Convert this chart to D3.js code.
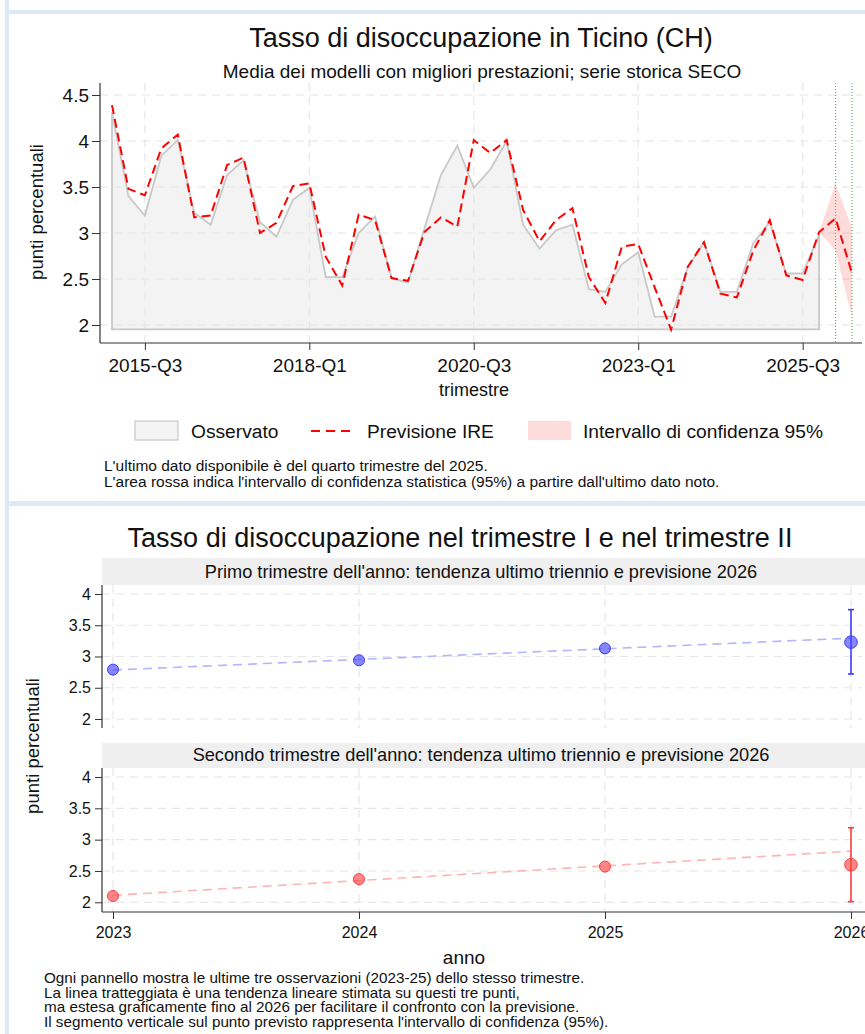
<!DOCTYPE html>
<html><head><meta charset="utf-8">
<script src="https://cdn.jsdelivr.net/npm/d3@7"></script>
<style>
body{margin:0;background:#fff}
svg{display:block}
text{font-family:"Liberation Sans",Arial,sans-serif;fill:#111}
</style>
</head><body><svg id="c" width="865" height="1034"></svg>
<script>
// ---------------- DATA ----------------
const quarters = ["2015-Q1","2015-Q2","2015-Q3","2015-Q4","2016-Q1","2016-Q2","2016-Q3","2016-Q4",
 "2017-Q1","2017-Q2","2017-Q3","2017-Q4","2018-Q1","2018-Q2","2018-Q3","2018-Q4",
 "2019-Q1","2019-Q2","2019-Q3","2019-Q4","2020-Q1","2020-Q2","2020-Q3","2020-Q4",
 "2021-Q1","2021-Q2","2021-Q3","2021-Q4","2022-Q1","2022-Q2","2022-Q3","2022-Q4",
 "2023-Q1","2023-Q2","2023-Q3","2023-Q4","2024-Q1","2024-Q2","2024-Q3","2024-Q4",
 "2025-Q1","2025-Q2","2025-Q3","2025-Q4","2026-Q1","2026-Q2"];
const observed = [4.31,3.40,3.19,3.84,4.01,3.22,3.09,3.63,3.79,3.12,2.96,3.36,3.49,2.52,2.52,3.00,
 3.18,2.51,2.46,3.05,3.63,3.95,3.49,3.69,4.00,3.09,2.83,3.03,3.09,2.39,2.36,2.66,
 2.79,2.09,2.09,2.62,2.90,2.36,2.36,2.89,3.12,2.56,2.56,2.98];
const forecast = [4.39,3.48,3.41,3.92,4.07,3.17,3.19,3.74,3.82,3.00,3.11,3.51,3.54,2.74,2.43,3.20,
 3.14,2.51,2.48,3.01,3.17,3.07,4.01,3.87,4.01,3.25,2.91,3.14,3.27,2.52,2.24,2.85,
 2.88,2.41,1.95,2.63,2.90,2.34,2.30,2.81,3.14,2.54,2.49,3.01,3.16,2.56];
const ciQuarters = ["2025-Q4","2026-Q1","2026-Q2"];
const ciLower = [3.01,2.81,2.08];
const ciUpper = [3.01,3.54,3.05];
const forecastMarks = ["2026-Q1","2026-Q2"];
const areaFloor = 1.953;
const xTickLabels = ["2015-Q3","2018-Q1","2020-Q3","2023-Q1","2025-Q3"];
const yTicksTop = [2,2.5,3,3.5,4,4.5];

const years = [2023,2024,2025];
const forecastYear = 2026;
const q1Values = [2.79,2.94,3.13];
const q1Forecast = 3.23;
const q1Ci = [2.72,3.75];
const q2Values = [2.10,2.37,2.57];
const q2Forecast = 2.60;
const q2Ci = [2.01,3.19];
const xTicksBottom = [2023,2024,2025,2026];
const yTicksBottom = [2,2.5,3,3.5,4];

// ---------------- SETUP ----------------
const svg = d3.select("#c");
const FONT = '"Liberation Sans",Arial,sans-serif';
const BORDER = "#dde9f6";

svg.append("rect").attr("x",5).attr("y",0).attr("width",4).attr("height",1034).attr("fill",BORDER);
svg.append("rect").attr("x",5).attr("y",10).attr("width",860).attr("height",4).attr("fill",BORDER);
svg.append("rect").attr("x",5).attr("y",501).attr("width",860).attr("height",5).attr("fill",BORDER);

// ---------------- TOP CHART ----------------
const x = d3.scalePoint().domain(quarters).range([112,852]);
const y = d3.scaleLinear().domain([2,4.5]).range([325,95]);
const plotL = 100, plotR = 862, plotT = 83, plotB = 343;

const topG = svg.append("g");

const obsPts = observed.map((v,i)=>[x(quarters[i]), y(v)]);
const poly = [[x(quarters[0]), y(areaFloor)], ...obsPts, [x(quarters[observed.length-1]), y(areaFloor)]];
topG.append("path").attr("d", d3.line()(poly)+"Z")
  .attr("fill","#f3f3f3").attr("stroke","none");

topG.selectAll(".hg").data(yTicksTop).join("line")
  .attr("x1",plotL).attr("x2",plotR).attr("y1",d=>y(d)).attr("y2",d=>y(d))
  .attr("stroke","#e6e6e6").attr("stroke-width",1.2).attr("stroke-dasharray","8,6");
topG.selectAll(".vg").data(xTickLabels).join("line")
  .attr("x1",d=>x(d)).attr("x2",d=>x(d)).attr("y1",plotT).attr("y2",plotB)
  .attr("stroke","#e6e6e6").attr("stroke-width",1.2).attr("stroke-dasharray","8,6");

topG.append("path").attr("d", d3.line()(poly)+"Z")
  .attr("fill","none").attr("stroke","#c8c8c8").attr("stroke-width",1.8);

const band = d3.area()
  .x((d,i)=>x(ciQuarters[i])).y0((d,i)=>y(ciLower[i])).y1((d,i)=>y(ciUpper[i]));
topG.append("path").attr("d", band(ciQuarters)).attr("fill","#ff0000").attr("fill-opacity",0.14);

topG.selectAll(".gm").data(forecastMarks).join("line")
  .attr("x1",d=>x(d)).attr("x2",d=>x(d)).attr("y1",plotT).attr("y2",plotB)
  .attr("stroke","#5cb85c").attr("stroke-width",1.2).attr("stroke-dasharray","1,2");

topG.append("path").attr("d", d3.line().x((d,i)=>x(quarters[i])).y(d=>y(d))(forecast))
  .attr("fill","none").attr("stroke","#ff0000").attr("stroke-width",2).attr("stroke-dasharray","9,5");

topG.append("line").attr("x1",plotL).attr("x2",plotL).attr("y1",plotT).attr("y2",plotB).attr("stroke","#333").attr("stroke-width",1.2);
topG.append("line").attr("x1",plotL).attr("x2",plotR).attr("y1",plotB).attr("y2",plotB).attr("stroke","#333").attr("stroke-width",1.2);

const yAx = topG.append("g").attr("transform",`translate(${plotL},0)`)
  .call(d3.axisLeft(y).tickValues(yTicksTop).tickSize(8).tickPadding(3).tickFormat(d=>String(d)));
yAx.select(".domain").remove();
yAx.selectAll("line").attr("stroke","#333");
yAx.selectAll("text").attr("font-size",19).attr("font-family",FONT).attr("fill","#111");

const xAx = topG.append("g").attr("transform",`translate(0,${plotB})`)
  .call(d3.axisBottom(x).tickValues(xTickLabels).tickSize(7).tickPadding(9));
xAx.select(".domain").remove();
xAx.selectAll("line").attr("stroke","#333");
xAx.selectAll("text").attr("font-size",19).attr("font-family",FONT).attr("fill","#111");

topG.append("text").attr("x",481).attr("y",47).attr("text-anchor","middle").attr("font-size",27)
  .text("Tasso di disoccupazione in Ticino (CH)");
topG.append("text").attr("x",482).attr("y",78).attr("text-anchor","middle").attr("font-size",19)
  .text("Media dei modelli con migliori prestazioni; serie storica SECO");
topG.append("text").attr("x",474).attr("y",396).attr("text-anchor","middle").attr("font-size",18)
  .text("trimestre");
topG.append("text").attr("transform","translate(43,212) rotate(-90)").attr("text-anchor","middle").attr("font-size",18.5)
  .text("punti percentuali");

const lg = topG.append("g");
lg.append("rect").attr("x",135).attr("y",421).attr("width",43).attr("height",19)
  .attr("fill","#f3f3f3").attr("stroke","#c8c8c8").attr("stroke-width",1.2);
lg.append("text").attr("x",191).attr("y",438).attr("font-size",19.2).text("Osservato");
lg.append("line").attr("x1",311).attr("x2",356).attr("y1",431).attr("y2",431)
  .attr("stroke","#ff0000").attr("stroke-width",2).attr("stroke-dasharray","9,6");
lg.append("text").attr("x",367).attr("y",438).attr("font-size",19.2).text("Previsione IRE");
lg.append("rect").attr("x",528).attr("y",421).attr("width",43).attr("height",19).attr("fill","#ffdcdc");
lg.append("text").attr("x",583).attr("y",438).attr("font-size",19.2).text("Intervallo di confidenza 95%");

topG.append("text").attr("x",104).attr("y",471).attr("font-size",15.5)
  .text("L'ultimo dato disponibile è del quarto trimestre del 2025.");
topG.append("text").attr("x",104).attr("y",487).attr("font-size",15.5)
  .text("L'area rossa indica l'intervallo di confidenza statistica (95%) a partire dall'ultimo dato noto.");

// ---------------- BOTTOM CHART ----------------
const bx = d3.scaleLinear().domain([2023,2026]).range([113,851]);
const bL = 102, bR = 862;

svg.append("text").attr("x",460).attr("y",547).attr("text-anchor","middle").attr("font-size",27)
  .text("Tasso di disoccupazione nel trimestre I e nel trimestre II");

function panel(cfg){
  const g = svg.append("g");
  const yy = d3.scaleLinear().domain([2,4]).range([cfg.y2, cfg.y4]);
  g.append("rect").attr("x",bL).attr("y",cfg.hTop).attr("width",865-bL).attr("height",cfg.pTop-cfg.hTop).attr("fill","#efefef");
  g.append("text").attr("x",481).attr("y",cfg.hBase).attr("text-anchor","middle").attr("font-size",18.2).text(cfg.title);
  g.selectAll(".hg").data(yTicksBottom).join("line")
    .attr("x1",bL).attr("x2",bR).attr("y1",d=>yy(d)).attr("y2",d=>yy(d))
    .attr("stroke","#e6e6e6").attr("stroke-width",1.2).attr("stroke-dasharray","8,6");
  g.selectAll(".vg").data(xTicksBottom).join("line")
    .attr("x1",d=>bx(d)).attr("x2",d=>bx(d)).attr("y1",cfg.pTop).attr("y2",cfg.pBot)
    .attr("stroke","#e6e6e6").attr("stroke-width",1.2).attr("stroke-dasharray","8,6");
  const mx = d3.mean(years), my = d3.mean(cfg.values);
  const slope = d3.sum(years,(t,i)=>(t-mx)*(cfg.values[i]-my)) / d3.sum(years,t=>(t-mx)*(t-mx));
  const trendYears = [years[0], forecastYear];
  g.append("path").attr("d", d3.line().x(d=>bx(d)).y(d=>yy(my+slope*(d-mx)))(trendYears))
    .attr("fill","none").attr("stroke",cfg.light).attr("stroke-width",1.6).attr("stroke-dasharray","9,6");
  const cx = bx(forecastYear);
  g.append("line").attr("x1",cx).attr("x2",cx).attr("y1",yy(cfg.ci[0])).attr("y2",yy(cfg.ci[1]))
    .attr("stroke",cfg.dark).attr("stroke-width",1.6);
  cfg.ci.forEach(v=>g.append("line").attr("x1",cx-3).attr("x2",cx+3).attr("y1",yy(v)).attr("y2",yy(v))
    .attr("stroke",cfg.dark).attr("stroke-width",1.6));
  g.selectAll(".pt").data(cfg.values).join("circle")
    .attr("cx",(d,i)=>bx(years[i])).attr("cy",d=>yy(d)).attr("r",5.5)
    .attr("fill",cfg.fill).attr("stroke",cfg.dark).attr("stroke-width",1);
  g.append("circle").attr("cx",cx).attr("cy",yy(cfg.fc)).attr("r",6.3)
    .attr("fill",cfg.fill).attr("stroke",cfg.dark).attr("stroke-width",1);
  g.append("line").attr("x1",bL).attr("x2",bL).attr("y1",cfg.pTop).attr("y2",cfg.pBot).attr("stroke","#333").attr("stroke-width",1.2);
  const ya = g.append("g").attr("transform",`translate(${bL},0)`)
    .call(d3.axisLeft(yy).tickValues(yTicksBottom).tickSize(7).tickPadding(4).tickFormat(d=>String(d)));
  ya.select(".domain").remove();
  ya.selectAll("line").attr("stroke","#333");
  ya.selectAll("text").attr("font-size",16).attr("font-family",FONT).attr("fill","#111");
  return g;
}

panel({title:"Primo trimestre dell'anno: tendenza ultimo triennio e previsione 2026",
  hTop:558, pTop:585, hBase:578, pBot:728, y2:719, y4:594,
  values:q1Values, fc:q1Forecast, ci:q1Ci,
  fill:"rgba(70,70,255,0.65)", dark:"#3b3bff", light:"#b4b4ff"});
panel({title:"Secondo trimestre dell'anno: tendenza ultimo triennio e previsione 2026",
  hTop:743, pTop:768, hBase:761, pBot:912, y2:902.3, y4:777,
  values:q2Values, fc:q2Forecast, ci:q2Ci,
  fill:"rgba(255,70,70,0.65)", dark:"#ff3b3b", light:"#ffb4b4"});

svg.append("line").attr("x1",bL).attr("x2",865).attr("y1",912).attr("y2",912).attr("stroke","#333").attr("stroke-width",1.2);
const bxa = svg.append("g").attr("transform","translate(0,912)")
  .call(d3.axisBottom(bx).tickValues(xTicksBottom).tickSize(7).tickPadding(8).tickFormat(d3.format("d")));
bxa.select(".domain").remove();
bxa.selectAll("line").attr("stroke","#333");
bxa.selectAll("text").attr("font-size",16).attr("font-family",FONT).attr("fill","#111");

svg.append("text").attr("x",464).attr("y",964).attr("text-anchor","middle").attr("font-size",19).text("anno");
svg.append("text").attr("transform","translate(39,746) rotate(-90)").attr("text-anchor","middle").attr("font-size",18.5)
  .text("punti percentuali");

const notes = ["Ogni pannello mostra le ultime tre osservazioni (2023-25) dello stesso trimestre.",
  "La linea tratteggiata è una tendenza lineare stimata su questi tre punti,",
  "ma estesa graficamente fino al 2026 per facilitare il confronto con la previsione.",
  "Il segmento verticale sul punto previsto rappresenta l'intervallo di confidenza (95%)."];
svg.append("g").attr("transform","translate(44,0) scale(1.075,1)")
  .selectAll(".note").data(notes).join("text")
  .attr("x",0).attr("y",(d,i)=>983+i*14.6).attr("font-size",14.2).text(d=>d);
</script>
</body></html>
